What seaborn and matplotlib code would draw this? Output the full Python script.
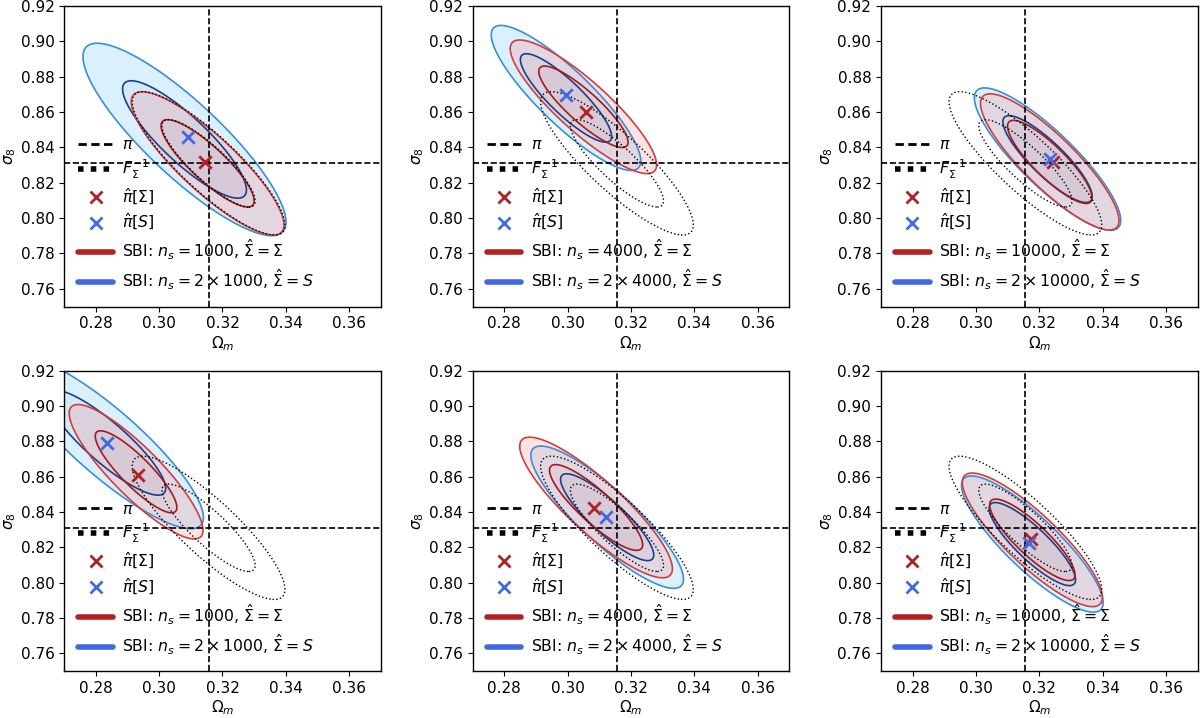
import numpy as np
import matplotlib
matplotlib.use("Agg")
import matplotlib.pyplot as plt
from matplotlib.lines import Line2D
import seaborn as sns

# fiducial parameters (Omega_m, sigma_8)
FID_OM = 0.3156
FID_S8 = 0.831

# Fisher ellipse (same in every panel)
FISH_SD_OM = 0.0097
FISH_SD_S8 = 0.0163
FISH_RHO = -0.86

# sample sizes per panel (row major)
ns_values = [1000, 4000, 10000, 1000, 4000, 10000]

# SBI posterior with Sigma_hat = Sigma (red)
red_mean_om = [0.3153, 0.3050, 0.3233, 0.2927, 0.3090, 0.3178]
red_mean_s8 = [0.8310, 0.8630, 0.8318, 0.8627, 0.8425, 0.8242]
red_sd_om = [0.0097, 0.0093, 0.0088, 0.0085, 0.0097, 0.0089]
red_sd_s8 = [0.0163, 0.0152, 0.0155, 0.0153, 0.0160, 0.0152]
red_rho = [-0.86, -0.87, -0.86, -0.87, -0.87, -0.86]

# SBI posterior with Sigma_hat = S (blue)
blue_mean_om = [0.3080, 0.2995, 0.3226, 0.2834, 0.3125, 0.3178]
blue_mean_s8 = [0.8445, 0.8680, 0.8334, 0.8792, 0.8370, 0.8218]
blue_sd_om = [0.0129, 0.0095, 0.0093, 0.0123, 0.0097, 0.0090]
blue_sd_s8 = [0.0219, 0.0165, 0.0162, 0.0196, 0.0162, 0.0155]
blue_rho = [-0.86, -0.87, -0.86, -0.87, -0.87, -0.86]

# point estimates
red_hat_om = [0.3145, 0.3059, 0.3243, 0.2934, 0.3083, 0.3173]
red_hat_s8 = [0.8319, 0.8601, 0.8319, 0.8610, 0.8421, 0.8248]
blue_hat_om = [0.3092, 0.2995, 0.3233, 0.2834, 0.3120, 0.3167]
blue_hat_s8 = [0.8458, 0.8695, 0.8336, 0.8792, 0.8370, 0.8223]

# 68% / 95% levels of a 2D gaussian (delta chi2)
LEVELS = [2.30, 6.18]

RED = "#b22222"
BLUE = "#4169e1"

sns.set_style("ticks")
plt.rcParams["font.family"] = ["DejaVu Sans"]
plt.rcParams["font.size"] = 11
plt.rcParams["legend.fontsize"] = 11.3
plt.rcParams["mathtext.fontset"] = "dejavusans"
plt.rcParams["text.color"] = "black"
plt.rcParams["axes.labelcolor"] = "black"
plt.rcParams["xtick.color"] = "black"
plt.rcParams["ytick.color"] = "black"

gx, gy = np.meshgrid(np.linspace(0.24, 0.40, 500), np.linspace(0.70, 0.96, 500))


def chi2(mx, my, sx, sy, rho):
    u = (gx - mx) / sx
    v = (gy - my) / sy
    return (u ** 2 - 2 * rho * u * v + v ** 2) / (1 - rho ** 2)


def draw_post(ax, c2, fill_out, fill_in, line_in, line_out, a_out):
    ax.contourf(gx, gy, c2, levels=[0, LEVELS[1]], colors=[fill_out], alpha=a_out)
    ax.contourf(gx, gy, c2, levels=[0, LEVELS[0]], colors=[fill_in], alpha=0.04)
    ax.contour(gx, gy, c2, levels=LEVELS, colors=[line_in, line_out], linewidths=1.2)


fig, axes = plt.subplots(2, 3, figsize=(12, 7.18), dpi=100)
fig.subplots_adjust(left=0.0535, right=0.998, bottom=0.0655, top=0.9916,
                    wspace=0.29, hspace=0.213)

fisher = chi2(FID_OM, FID_S8, FISH_SD_OM, FISH_SD_S8, FISH_RHO)
xt = np.arange(0.28, 0.3601, 0.02)
yt = np.arange(0.76, 0.9201, 0.02)

for i, ax in enumerate(axes.flat):
    c_red = chi2(red_mean_om[i], red_mean_s8[i], red_sd_om[i], red_sd_s8[i], red_rho[i])
    c_blue = chi2(blue_mean_om[i], blue_mean_s8[i], blue_sd_om[i], blue_sd_s8[i], blue_rho[i])

    draw_post(ax, c_blue, "#87cefa", "#1f3f8b", "#1b3f8b", "#3a8fd6", 0.3)
    draw_post(ax, c_red, "#ff8080", "#8b1a1a", "#a01c1c", "#d43d3d", 0.22)

    ax.contour(gx, gy, fisher, levels=LEVELS, colors="black", linewidths=1.0,
               linestyles=":")

    ax.axvline(FID_OM, color="black", ls="--", lw=1.2)
    ax.axhline(FID_S8, color="black", ls="--", lw=1.2)

    sns.scatterplot(x=[red_hat_om[i]], y=[red_hat_s8[i]], marker="x", color=RED,
                    s=80, linewidth=2, ax=ax, zorder=5)
    sns.scatterplot(x=[blue_hat_om[i]], y=[blue_hat_s8[i]], marker="x", color=BLUE,
                    s=80, linewidth=2, ax=ax, zorder=5)

    ax.set_xlim(0.27, 0.37)
    ax.set_ylim(0.75, 0.92)
    ax.set_xticks(xt)
    ax.set_yticks(yt)
    ax.set_xticklabels([f"{t:.2f}" for t in xt])
    ax.set_yticklabels([f"{t:.2f}" for t in yt])
    ax.set_xlabel(r"$\Omega_m$", labelpad=2)
    ax.set_ylabel(r"$\sigma_8$", labelpad=2)
    for sp in ax.spines.values():
        sp.set_color("black")
        sp.set_linewidth(1.0)

    ns = ns_values[i]
    handles = [
        Line2D([], [], color="black", lw=2, dashes=(3, 1.6)),
        Line2D([], [], color="black", lw=4, dashes=(1, 1.3), dash_capstyle="butt"),
        Line2D([], [], color=RED, marker="x", ls="none", ms=9, mew=2),
        Line2D([], [], color=BLUE, marker="x", ls="none", ms=9, mew=2),
        Line2D([], [], color=RED, lw=4),
        Line2D([], [], color=BLUE, lw=4),
    ]
    labels = [
        r"$\pi$",
        r"$F_{\Sigma}^{-1}$",
        r"$\hat{\pi}[\Sigma]$",
        r"$\hat{\pi}[S]$",
        rf"SBI: $n_s = {ns}$, $\hat{{\Sigma}} = \Sigma$",
        rf"SBI: $n_s = 2 \times {ns}$, $\hat{{\Sigma}} = S$",
    ]
    ax.legend(handles, labels, loc="lower left", frameon=False, labelspacing=0.34,
              handlelength=2.2, handletextpad=0.6)

fig.savefig("out.png", dpi=100)
